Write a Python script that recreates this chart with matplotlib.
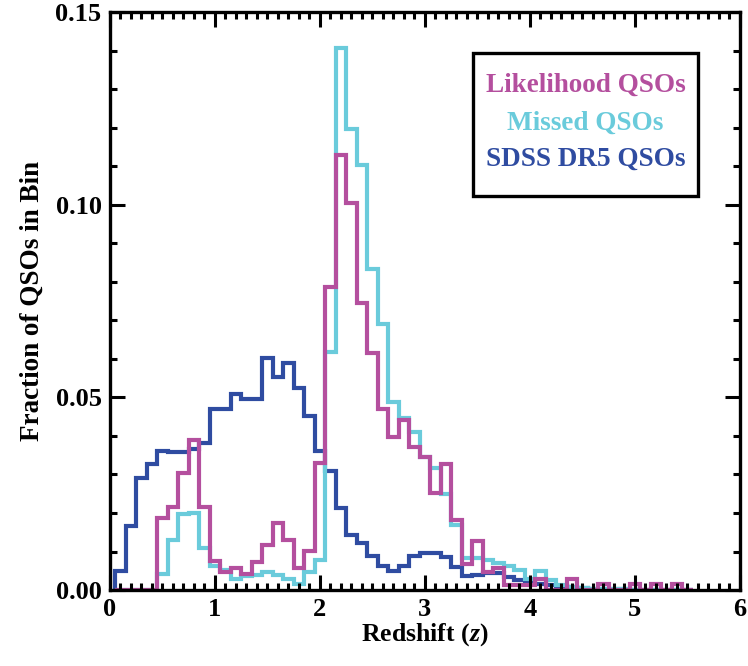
import numpy as np
import matplotlib.pyplot as plt
from matplotlib.patches import Rectangle
from matplotlib.ticker import MultipleLocator

plt.rcParams['font.family'] = ['Liberation Serif', 'DejaVu Serif']
plt.rcParams['font.weight'] = 'bold'
plt.rcParams['mathtext.fontset'] = 'custom'
plt.rcParams['mathtext.it'] = 'Liberation Serif:italic:bold'
plt.rcParams['mathtext.rm'] = 'Liberation Serif:bold'

# redshift bin edges (bin width 0.1, centred on 0.1 ... 5.5)
z_edges = np.round(np.arange(0.05, 5.60, 0.1), 2)

# fraction of QSOs per bin
sdss_dr5 = [0.0050, 0.0167, 0.0291, 0.0328, 0.0360, 0.0357, 0.0358, 0.0365, 0.0382, 0.0469,
            0.0469, 0.0510, 0.0497, 0.0495, 0.0603, 0.0554, 0.0588, 0.0525, 0.0451, 0.0362,
            0.0308, 0.0213, 0.0143, 0.0122, 0.0089, 0.0063, 0.0049, 0.0063, 0.0089, 0.0095,
            0.0096, 0.0087, 0.0061, 0.0036, 0.0038, 0.0045, 0.0045, 0.0035, 0.0026, 0.0022,
            0.0015, 0.0013, 0.0010, 0.0008, 0.0006, 0.0004, 0.0003, 0.0002, 0.0002, 0.0001,
            0.0001, 0.0001, 0.0000, 0.0000, 0.0000]

missed = [0.0, 0.0, 0.0, 0.0, 0.0043, 0.0131, 0.0198, 0.0201, 0.0109, 0.0063,
          0.0052, 0.0029, 0.0036, 0.0039, 0.0046, 0.0039, 0.0028, 0.0016, 0.0046, 0.0079,
          0.0617, 0.1406, 0.1196, 0.1104, 0.0834, 0.0690, 0.0488, 0.0446, 0.0410, 0.0346,
          0.0317, 0.0250, 0.0169, 0.0082, 0.0082, 0.0078, 0.0071, 0.0063, 0.0052, 0.0030,
          0.0050, 0.0025, 0.0012, 0.0008, 0.0005, 0.0004, 0.0003, 0.0002, 0.0002, 0.0001,
          0.0001, 0.0000, 0.0000, 0.0000, 0.0000]

likelihood = [0.0, 0.0, 0.0, 0.0, 0.0187, 0.0216, 0.0304, 0.0389, 0.0216, 0.0076,
              0.0048, 0.0058, 0.0043, 0.0073, 0.0116, 0.0174, 0.0129, 0.0058, 0.0101, 0.0330,
              0.0786, 0.1130, 0.1004, 0.0745, 0.0614, 0.0471, 0.0398, 0.0442, 0.0371, 0.0345,
              0.0253, 0.0327, 0.0182, 0.0068, 0.0127, 0.0048, 0.0056, 0.0013, 0.0013, 0.0013,
              0.0028, 0.0000, 0.0000, 0.0028, 0.0000, 0.0000, 0.0017, 0.0000, 0.0000, 0.0017,
              0.0000, 0.0017, 0.0000, 0.0017, 0.0000]

labels = ['Likelihood QSOs', 'Missed QSOs', 'SDSS DR5 QSOs']
colors = ['#B44F9E', '#6ACBDB', '#2F4CA1']

fig = plt.figure(figsize=(7.48, 6.66), dpi=100)
ax = fig.add_axes([0.147, 0.114, 0.842, 0.868])

# draw DR5 first, likelihood on top
ax.stairs(sdss_dr5, z_edges, baseline=0, color=colors[2], lw=3)
ax.stairs(missed, z_edges, baseline=0, color=colors[1], lw=3)
ax.stairs(likelihood, z_edges, baseline=0, color=colors[0], lw=3)

ax.set_xlim(0, 6)
ax.set_ylim(0, 0.15)
ax.xaxis.set_major_locator(MultipleLocator(1))
ax.xaxis.set_minor_locator(MultipleLocator(0.1))
ax.yaxis.set_major_locator(MultipleLocator(0.05))
ax.yaxis.set_minor_locator(MultipleLocator(0.01))
ax.yaxis.set_major_formatter(plt.FormatStrFormatter('%.2f'))
ax.tick_params(which='both', direction='in', top=True, right=True, width=2.2, labelsize=19)
ax.tick_params(which='major', length=11, pad=6)
ax.tick_params(which='minor', length=5)
for s in ax.spines.values():
    s.set_linewidth(2.4)

ax.set_xlabel('Redshift ($z$)', fontsize=18.5, fontweight='bold', labelpad=0)
ax.set_ylabel('Fraction of QSOs in Bin', fontsize=19.5, fontweight='bold', labelpad=8)

# legend box: coloured labels only, no line handles
ax.add_patch(Rectangle((0.576, 0.682), 0.357, 0.247, transform=ax.transAxes,
                       facecolor='white', edgecolor='black', lw=2.4, zorder=5))
for lab, c, y in zip(labels, colors, [0.873, 0.808, 0.746]):
    ax.text(0.755, y, lab, color=c, fontsize=19.5, fontweight='bold',
            ha='center', va='center', transform=ax.transAxes, zorder=6)

fig.savefig('out.png', dpi=100)
